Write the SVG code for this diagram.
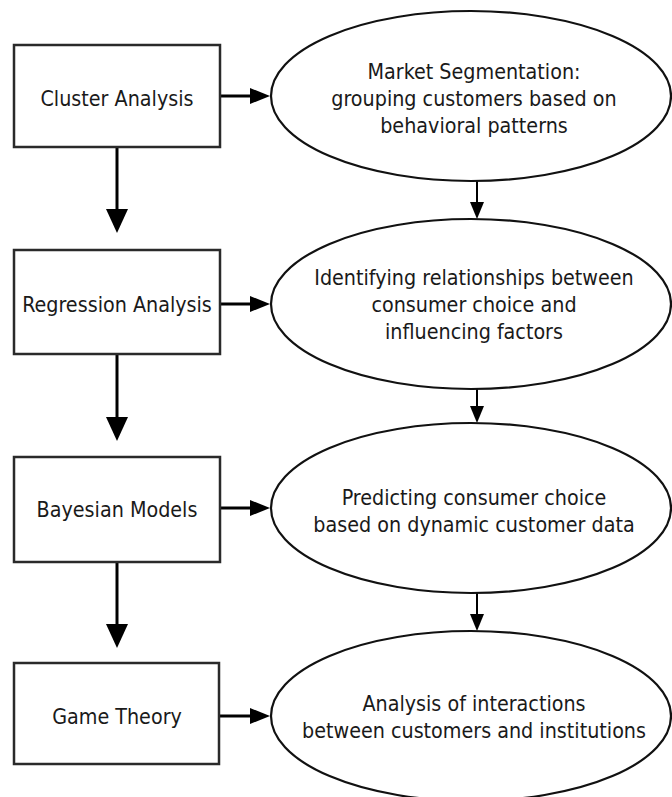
<svg xmlns="http://www.w3.org/2000/svg" width="672" height="797" viewBox="0 0 672 797">
<style>
.box{fill:#fff;stroke:#2a2a2a;stroke-width:2.5}
.ell{fill:#fff;stroke:#111;stroke-width:2.2}
.t{font-family:"DejaVu Sans Condensed","DejaVu Sans",sans-serif;font-stretch:condensed;font-size:21.3px;fill:#1a1a1a;text-anchor:middle}
.big{stroke:#000;stroke-width:3;fill:none}
.mid{stroke:#000;stroke-width:3;fill:none}
.sm{stroke:#000;stroke-width:2;fill:none}
</style>
<defs>
<marker id="ahBig" markerUnits="userSpaceOnUse" viewBox="0 0 24 22" markerWidth="24" markerHeight="22" refX="14" refY="11" orient="auto"><path d="M0,0 L24,11 L0,22 z" fill="#000"/></marker>
<marker id="ahMid" markerUnits="userSpaceOnUse" viewBox="0 0 20 16" markerWidth="20" markerHeight="16" refX="12" refY="8" orient="auto"><path d="M0,0 L20,8 L0,16 z" fill="#000"/></marker>
<marker id="ahSm" markerUnits="userSpaceOnUse" viewBox="0 0 17 14" markerWidth="17" markerHeight="14" refX="11" refY="7" orient="auto"><path d="M0,0 L17,7 L0,14 z" fill="#000"/></marker>
</defs>
<rect width="672" height="797" fill="#fff"/>
<g id="connectors">
<line class="big" x1="117" y1="147" x2="117" y2="223" marker-end="url(#ahBig)"/>
<line class="big" x1="117" y1="354" x2="117" y2="431" marker-end="url(#ahBig)"/>
<line class="big" x1="117" y1="562" x2="117" y2="638" marker-end="url(#ahBig)"/>
<line class="mid" x1="220" y1="96" x2="262" y2="96" marker-end="url(#ahMid)"/>
<line class="mid" x1="220" y1="304" x2="262" y2="304" marker-end="url(#ahMid)"/>
<line class="mid" x1="220" y1="508" x2="262" y2="508" marker-end="url(#ahMid)"/>
<line class="mid" x1="220" y1="716" x2="262" y2="716" marker-end="url(#ahMid)"/>
<line class="sm" x1="477" y1="181" x2="477" y2="213" marker-end="url(#ahSm)"/>
<line class="sm" x1="477" y1="389" x2="477" y2="417" marker-end="url(#ahSm)"/>
<line class="sm" x1="477" y1="593" x2="477" y2="625" marker-end="url(#ahSm)"/>
</g>
<g id="cluster"><rect class="box" x="14" y="45" width="206" height="102"/><text class="t" x="117" y="106">Cluster Analysis</text></g>
<g id="regression"><rect class="box" x="14" y="250" width="206" height="104"/><text class="t" x="117" y="312">Regression Analysis</text></g>
<g id="bayesian"><rect class="box" x="14" y="457" width="206" height="105"/><text class="t" x="117" y="517">Bayesian Models</text></g>
<g id="game"><rect class="box" x="14" y="663" width="205" height="101"/><text class="t" x="117" y="724">Game Theory</text></g>
<g id="segmentation"><ellipse class="ell" cx="471" cy="96" rx="200" ry="85"/><text class="t" x="474" y="79">Market Segmentation:</text><text class="t" x="474" y="106">grouping customers based on</text><text class="t" x="474" y="133">behavioral patterns</text></g>
<g id="relationships"><ellipse class="ell" cx="471" cy="304" rx="200" ry="85"/><text class="t" x="474" y="285">Identifying relationships between</text><text class="t" x="474" y="312">consumer choice and</text><text class="t" x="474" y="339">influencing factors</text></g>
<g id="predicting"><ellipse class="ell" cx="471" cy="508" rx="200" ry="85"/><text class="t" x="474" y="505">Predicting consumer choice</text><text class="t" x="474" y="532">based on dynamic customer data</text></g>
<g id="interactions"><ellipse class="ell" cx="471" cy="716" rx="200" ry="85"/><text class="t" x="474" y="711">Analysis of interactions</text><text class="t" x="474" y="738">between customers and institutions</text></g>
</svg>
